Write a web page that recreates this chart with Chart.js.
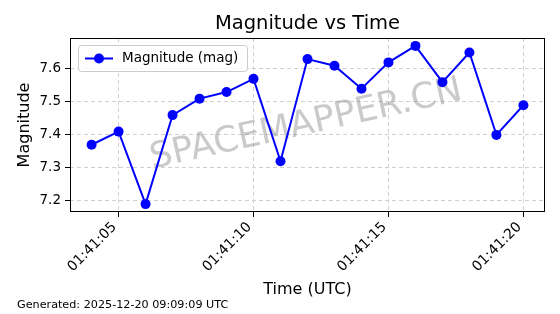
<!DOCTYPE html>
<html>
<head>
<meta charset="utf-8">
<title>Magnitude vs Time</title>
<script src="https://cdn.jsdelivr.net/npm/chart.js@4.4.1/dist/chart.umd.min.js"></script>
<style>
    html, body { margin: 0; padding: 0; background: #fff; }
    #wrap { width: 560px; height: 314px; }
</style>
</head>
<body>
<div id="wrap"><canvas id="magChart" width="560" height="314"></canvas></div>
<script>
// data
const times = ['01:41:04', '01:41:05', '01:41:06', '01:41:07', '01:41:08', '01:41:09',
    '01:41:10', '01:41:11', '01:41:12', '01:41:13', '01:41:14', '01:41:15',
    '01:41:16', '01:41:17', '01:41:18', '01:41:19', '01:41:20'];
const magnitudes = [7.37, 7.41, 7.19, 7.46, 7.51, 7.53, 7.57, 7.32, 7.63, 7.61,
    7.54, 7.62, 7.67, 7.56, 7.65, 7.40, 7.49];
const xTickLabels = ['01:41:05', '01:41:10', '01:41:15', '01:41:20'];
const yTicks = [7.2, 7.3, 7.4, 7.5, 7.6];

const seriesLabel = 'Magnitude (mag)';
const chartTitle = 'Magnitude vs Time';
const footerText = 'Generated: 2025-12-20 09:09:09 UTC';
const watermark = 'SPACEMAPPER.CN';

function toSeconds(t) {
    const p = t.split(':').map(Number);
    return p[0] * 3600 + p[1] * 60 + p[2];
}
function fromSeconds(s) {
    const pad = n => String(n).padStart(2, '0');
    return pad(Math.floor(s / 3600)) + ':' + pad(Math.floor(s / 60) % 60) + ':' + pad(s % 60);
}

const points = times.map((t, i) => ({ x: toSeconds(t), y: magnitudes[i] }));

// matplotlib style 5% margins
const xs = points.map(p => p.x);
const xMin = Math.min(...xs), xMax = Math.max(...xs);
const yMin = Math.min(...magnitudes), yMax = Math.max(...magnitudes);
const xPad = (xMax - xMin) * 0.05, yPad = (yMax - yMin) * 0.05;

Chart.defaults.font.family = '"DejaVu Sans", sans-serif';
Chart.defaults.color = '#000';

const FONT = Chart.defaults.font.family;
const BLUE = '#0000ff';

// title, frame, legend box, watermark and footer
const decorPlugin = {
    id: 'decor',
    beforeDatasetsDraw(chart) {
        const ctx = chart.ctx;
        ctx.save();
        ctx.translate(306, 125);
        ctx.rotate(-12.5 * Math.PI / 180);
        ctx.font = '35.5px ' + FONT;
        ctx.fillStyle = 'rgba(128,128,128,0.42)';
        ctx.textAlign = 'center';
        ctx.textBaseline = 'middle';
        ctx.fillText(watermark, 0, 0);
        ctx.restore();
    },
    afterDraw(chart) {
        const ctx = chart.ctx;
        const a = chart.chartArea;
        ctx.save();

        // frame
        ctx.strokeStyle = '#000';
        ctx.lineWidth = 1;
        ctx.strokeRect(Math.round(a.left) + 0.5, Math.round(a.top) + 0.5,
            Math.round(a.right - a.left) - 1, Math.round(a.bottom - a.top) - 1);

        // title
        ctx.fillStyle = '#000';
        ctx.font = '19.5px ' + FONT;
        ctx.textAlign = 'center';
        ctx.textBaseline = 'middle';
        ctx.fillText(chartTitle, (a.left + a.right) / 2, 24);

        // legend
        const lx = a.left + 8, ly = a.top + 7, lw = 169, lh = 26;
        ctx.beginPath();
        ctx.roundRect(lx + 0.5, ly + 0.5, lw, lh, 3);
        ctx.fillStyle = 'rgba(255,255,255,0.8)';
        ctx.fill();
        ctx.strokeStyle = '#cccccc';
        ctx.lineWidth = 1;
        ctx.stroke();
        const my = ly + lh / 2 + 0.5;
        ctx.beginPath();
        ctx.moveTo(lx + 7, my);
        ctx.lineTo(lx + 35, my);
        ctx.strokeStyle = BLUE;
        ctx.lineWidth = 2;
        ctx.stroke();
        ctx.beginPath();
        ctx.arc(lx + 21, my, 5, 0, Math.PI * 2);
        ctx.fillStyle = BLUE;
        ctx.fill();
        ctx.fillStyle = '#000';
        ctx.font = '13.5px ' + FONT;
        ctx.textAlign = 'left';
        ctx.fillText(chart.data.datasets[0].label, lx + 44, my);

        // footer
        ctx.font = '11.2px ' + FONT;
        ctx.fillText(footerText, 17, 305);
        ctx.restore();
    }
};

const ctx = document.getElementById('magChart');
const magChart = new Chart(ctx, {
    type: 'line',
    data: {
        datasets: [{
            label: seriesLabel,
            data: points,
            borderColor: BLUE,
            backgroundColor: BLUE,
            borderWidth: 2,
            pointRadius: 5,
            pointBorderWidth: 0,
            pointHoverRadius: 5,
            tension: 0,
            fill: false
        }]
    },
    options: {
        responsive: false,
        animation: false,
        events: [],
        layout: { padding: { top: 38, right: 15, left: 0, bottom: 0 } },
        plugins: {
            legend: { display: false },
            title: { display: false },
            tooltip: { enabled: false }
        },
        scales: {
            x: {
                type: 'linear',
                min: xMin - xPad,
                max: xMax + xPad,
                afterFit: s => { s.height = 102; },
                afterBuildTicks: s => { s.ticks = xTickLabels.map(t => ({ value: toSeconds(t) })); },
                ticks: {
                    font: { size: 14 },
                    minRotation: 45,
                    maxRotation: 45,
                    padding: 2,
                    labelOffset: -4,
                    callback: v => fromSeconds(v)
                },
                grid: {
                    color: '#d0d0d0',
                    tickColor: '#000',
                    tickLength: 5,
                    tickBorderDash: []
                },
                border: { display: false, dash: [4, 3] },
                title: {
                    display: true,
                    text: 'Time (UTC)',
                    font: { size: 16 },
                    padding: { top: 0, bottom: 15 }
                }
            },
            y: {
                min: yMin - yPad,
                max: yMax + yPad,
                afterFit: s => { s.width = 70; },
                afterBuildTicks: s => { s.ticks = yTicks.map(v => ({ value: v })); },
                ticks: {
                    font: { size: 13.5 },
                    padding: 4,
                    callback: v => v.toFixed(1)
                },
                grid: {
                    color: '#d0d0d0',
                    tickColor: '#000',
                    tickLength: 5,
                    tickBorderDash: []
                },
                border: { display: false, dash: [4, 3] },
                title: {
                    display: true,
                    text: 'Magnitude',
                    font: { size: 16 },
                    padding: { top: 15, bottom: 0 }
                }
            }
        }
    },
    plugins: [decorPlugin]
});
</script>
</body>
</html>
